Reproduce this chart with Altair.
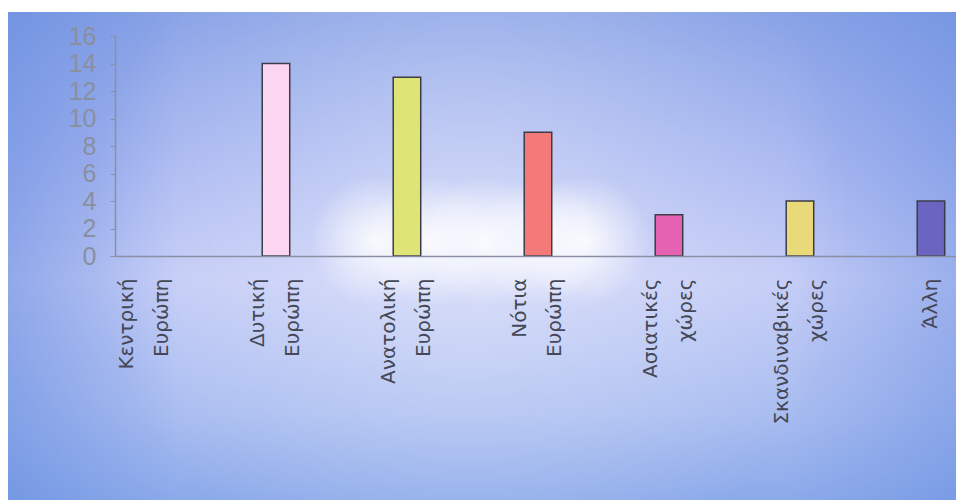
import altair as alt
import pandas as pd

# Regions and number of responses per region
regions = [
    "Κεντρική Ευρώπη",
    "Δυτική Ευρώπη",
    "Ανατολική Ευρώπη",
    "Νότια Ευρώπη",
    "Ασιατικές χώρες",
    "Σκανδιναβικές χώρες",
    "Άλλη",
]
counts = [0, 14, 13, 9, 3, 4, 4]
bar_colors = ["#a9b8ee", "#fcd6f1", "#dfe476", "#f47a7a", "#e562b2", "#e9d978", "#6b64c0"]
y_ticks = [0, 2, 4, 6, 8, 10, 12, 14, 16]

W, H = 841, 220
PAD_L, PAD_T, PAD_B = 115, 36, 246

df = pd.DataFrame({"region": regions, "count": counts, "color": bar_colors})
one = pd.DataFrame({"k": [0]})

# panel behind the plot (relative to the plot origin)
px0, px1, py0, py1 = -107, W, -24, 464


def panel(fill):
    return alt.Chart(one).mark_rect(fill=fill).encode(
        x=alt.value(px0), x2=alt.value(px1), y=alt.value(py0), y2=alt.value(py1)
    )


base_fill = {
    "gradient": "linear", "x1": 0, "y1": 0, "x2": 0, "y2": 1,
    "stops": [
        {"offset": 0.0, "color": "#88a2e6"},
        {"offset": 0.3, "color": "#a7b6f0"},
        {"offset": 0.55, "color": "#c3cbf6"},
        {"offset": 0.82, "color": "#a8bcf0"},
        {"offset": 1.0, "color": "#8caaea"},
    ],
}
edge_fill = {
    "gradient": "linear", "x1": 0, "y1": 0, "x2": 1, "y2": 0,
    "stops": [
        {"offset": 0.0, "color": "rgba(95,135,222,0.5)"},
        {"offset": 0.18, "color": "rgba(95,135,222,0)"},
        {"offset": 0.82, "color": "rgba(95,135,222,0)"},
        {"offset": 1.0, "color": "rgba(95,135,222,0.4)"},
    ],
}


def glow(cx, cy, r, a0, a1):
    # radial fill in panel units (square of side = panel width, centred on panel)
    pw = px1 - px0
    ph = py1 - py0
    fx = (cx - px0) / pw
    fy = 0.5 + (cy - (py0 + ph / 2)) / pw
    return {
        "gradient": "radial", "x1": fx, "y1": fy, "r1": 0, "x2": fx, "y2": fy, "r2": r / pw,
        "stops": [
            {"offset": 0.0, "color": f"rgba(255,255,255,{a0})"},
            {"offset": 0.55, "color": f"rgba(255,255,255,{a1})"},
            {"offset": 1.0, "color": "rgba(255,255,255,0)"},
        ],
    }


layers = [panel(base_fill), panel(edge_fill), panel(glow(355, 190, 380, 0.42, 0.18))]
for gx in [260, 315, 370, 425, 470]:
    layers.append(panel(glow(gx, 205, 65, 0.85, 0.4)))

bars = (
    alt.Chart(df)
    .transform_filter("datum.count > 0")
    .mark_bar(stroke="#3c3c48", strokeWidth=1.5)
    .encode(
        x=alt.X(
            "region:N",
            sort=regions,
            scale=alt.Scale(domain=regions, paddingInner=0.79, paddingOuter=0.105, align=0.59),
            axis=alt.Axis(
                title=None,
                zindex=1,
                labelAngle=270,
                labelExpr="split(datum.label, ' ')",
                labelOffset={
                    "condition": {"test": "indexof(datum.label, ' ') >= 0", "value": -18},
                    "value": 0,
                },
                labelFont="DejaVu Sans",
                labelFontSize=20,
                labelColor="#444856",
                labelLineHeight=35,
                labelPadding=22,
                labelLimit=400,
                labelOverlap=False,
                ticks=False,
                domainColor="#8a90a4",
                domainWidth=1.5,
            ),
        ),
        y=alt.Y(
            "count:Q",
            scale=alt.Scale(domain=[0, 16], nice=False),
            axis=alt.Axis(
                title=None,
                zindex=1,
                values=y_ticks,
                grid=False,
                labelFont="Liberation Sans",
                labelFontSize=25,
                labelColor="#8a8f9e",
                labelPadding=14,
                tickSize=5,
                tickColor="#8a90a4",
                domainColor="#8a90a4",
                domainWidth=1.5,
            ),
        ),
        fill=alt.Fill("color:N", scale=None),
    )
)
layers.append(bars)

chart = (
    alt.layer(*layers)
    .properties(
        width=W,
        height=H,
        background="white",
        padding={"left": PAD_L, "top": PAD_T, "right": 0, "bottom": PAD_B},
        autosize=alt.AutoSizeParams(type="none"),
    )
    .configure_view(stroke=None)
)

chart.save("out.html", embed_options={"renderer": "svg", "actions": False})
